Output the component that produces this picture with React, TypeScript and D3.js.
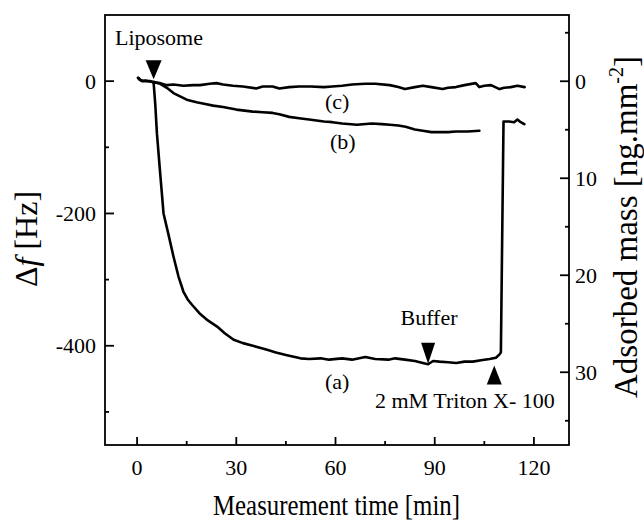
import React from "react";
import * as d3 from "d3";

// Frequency shift traces, [time (min), Δf (Hz)]
const curveA: [number, number][] = [
  [0.3, 5], [0.8, 2], [1.5, 0], [2.5, 1], [3.5, 0], [4.5, -1], [5.0, -2],
  [5.5, -35], [6.0, -79], [7.0, -140], [8.0, -200], [9.5, -232], [11.0, -265],
  [12.5, -295], [14.0, -318], [15.3, -330], [16.6, -338], [19.1, -352], [21.5, -362], [24.2, -371],
  [26.5, -381], [29.2, -391], [32, -396], [35, -400], [39.3, -406], [42, -410],
  [45, -414], [49.4, -419], [52, -420], [55.5, -419], [58, -421], [62, -419],
  [65, -421], [69, -417], [72, -420], [76, -421], [78, -419], [81, -421], [84, -423],
  [86.4, -426], [88, -428], [89.5, -423], [91.4, -424], [94, -425], [96.5, -426],
  [99, -424], [101.5, -424], [104, -422], [106.6, -420], [108.5, -418], [109.6, -413],
  [110.0, -410], [110.8, -61], [112.5, -61], [114, -62], [115, -58], [116, -62], [117.1, -65],
];

const curveB: [number, number][] = [
  [5, -1], [7, -4], [9, -10], [11, -18], [13, -23], [15, -28], [18, -32], [21, -35],
  [23, -37], [26, -39], [30, -43], [35, -46], [38, -47], [41, -48], [43, -50],
  [46, -54], [49, -56], [52, -58], [56.5, -61], [59, -62], [62, -64], [66.5, -66],
  [71, -64], [74, -65], [76.4, -66], [79, -67], [81.2, -69], [84, -73], [86.4, -75],
  [89, -77], [91.5, -77], [94, -77], [96.4, -76], [100, -76], [103.5, -75],
];

const curveC: [number, number][] = [
  [0.3, 5], [1, 2], [2, 0], [4, 0], [5, -2], [7, -3], [9, -6], [11, -5], [14, -7],
  [17, -6], [19, -6], [22, -4], [24, -3], [26, -5], [29, -7], [32, -8], [36, -11],
  [38, -8], [41, -8], [43, -11], [46, -9], [49, -8], [52.5, -8], [56.5, -9],
  [59, -8], [62, -7], [65, -5], [69, -4], [72, -4], [76.4, -6], [79, -9], [81, -12],
  [84, -9], [86.4, -7], [89, -9], [92.4, -12], [94, -10], [96.4, -9], [99, -6],
  [102.4, -3], [103.5, -9], [105, -7], [107, -6], [109.6, -12], [111, -10],
  [113, -9], [115, -7], [117.2, -9],
];

const timeTicks = [0, 30, 60, 90, 120];
const timeMinor = [15, 45, 75, 105];
const freqTicks = [0, -200, -400];
const freqMinor = [-100, -300, -500];
const massTicks = [0, 10, 20, 30];
const massMinor = [-5, 5, 15, 25, 35];

// Injection events: [time (min), Δf at marker tip (Hz)]
const liposomeAt: [number, number] = [5, 3];
const bufferAt: [number, number] = [88, -427];
const tritonAt: [number, number] = [108, -430];

const W = 644;
const H = 523;
const FONT = "'Liberation Serif', 'Times New Roman', serif";

export default function App() {
  const x = d3.scaleLinear().domain([-9.7, 130.6]).range([105, 569]);
  const y = d3.scaleLinear().domain([-550, 100]).range([445, 15]);
  const yMass = d3.scaleLinear().domain([-6.83, 37.5]).range([15, 445]);

  const [x0, x1] = x.range();
  const [yb, yt] = y.range();

  const line = d3
    .line<[number, number]>()
    .x((d) => x(d[0]))
    .y((d) => y(d[1]));

  const stroke = "#000";

  const downTri = (cx: number, tipY: number, w: number, h: number) =>
    `M${cx - w / 2},${tipY - h} L${cx + w / 2},${tipY - h} L${cx},${tipY} Z`;
  const upTri = (cx: number, tipY: number, w: number, h: number) =>
    `M${cx - w / 2},${tipY + h} L${cx + w / 2},${tipY + h} L${cx},${tipY} Z`;

  return (
    <svg
      width={W}
      height={H}
      style={{ position: "absolute", left: 0, top: 0, background: "#fff" }}
      fontFamily={FONT}
    >
      <rect x={0} y={0} width={W} height={H} fill="#fff" />

      {/* traces */}
      <g fill="none" stroke={stroke} strokeWidth={2.6} strokeLinejoin="round" strokeLinecap="round">
        <path d={line(curveC) ?? ""} />
        <path d={line(curveB) ?? ""} />
        <path d={line(curveA) ?? ""} />
      </g>

      {/* frame */}
      <rect x={x0} y={yt} width={x1 - x0} height={yb - yt} fill="none" stroke={stroke} strokeWidth={1.8} />

      {/* axis ticks, all pointing inward */}
      <g stroke={stroke} strokeWidth={1.8}>
        {timeTicks.map((t) => (
          <line key={"tx" + t} x1={x(t)} x2={x(t)} y1={yb} y2={yb - 8} />
        ))}
        {timeMinor.map((t) => (
          <line key={"mx" + t} x1={x(t)} x2={x(t)} y1={yb} y2={yb - 4} />
        ))}
        {freqTicks.map((v) => (
          <line key={"ty" + v} x1={x0} x2={x0 + 9} y1={y(v)} y2={y(v)} />
        ))}
        {freqMinor.map((v) => (
          <line key={"my" + v} x1={x0} x2={x0 + 4} y1={y(v)} y2={y(v)} />
        ))}
        {massTicks.map((v) => (
          <line key={"tm" + v} x1={x1} x2={x1 - 9} y1={yMass(v)} y2={yMass(v)} />
        ))}
        {massMinor.map((v) => (
          <line key={"mm" + v} x1={x1} x2={x1 - 4} y1={yMass(v)} y2={yMass(v)} />
        ))}
      </g>

      {/* tick labels */}
      <g fontSize={22} fill={stroke}>
        {timeTicks.map((t) => (
          <text key={"lx" + t} x={x(t)} y={475} textAnchor="middle">
            {t}
          </text>
        ))}
        {freqTicks.map((v) => (
          <text key={"ly" + v} x={96} y={y(v) + 7.5} textAnchor="end">
            {String(v)}
          </text>
        ))}
        {massTicks.map((v) => (
          <text key={"lm" + v} x={575} y={yMass(v) + 7.5} textAnchor="start">
            {v}
          </text>
        ))}
      </g>

      {/* axis titles */}
      <text
        x={336.5}
        y={515}
        fontSize={29}
        textAnchor="middle"
        textLength={247}
        lengthAdjust="spacingAndGlyphs"
      >
        Measurement time [min]
      </text>
      <text transform="translate(37,239) rotate(-90)" fontSize={32} textAnchor="middle">
        Δ<tspan fontStyle="italic">f</tspan> [Hz]
      </text>
      <text transform="translate(637,227) rotate(-90)" fontSize={33} textAnchor="middle">
        Adsorbed mass [ng.mm
        <tspan fontSize={20} dy={-14}>-2</tspan>
        <tspan dy={14}>]</tspan>
      </text>

      {/* event markers */}
      <g fill={stroke}>
        <path d={downTri(x(liposomeAt[0]), y(liposomeAt[1]), 16, 19)} />
        <path d={downTri(x(bufferAt[0]), y(bufferAt[1]), 14, 21)} />
        <path d={upTri(x(tritonAt[0]), y(tritonAt[1]), 15, 19)} />
      </g>

      {/* annotations */}
      <g fontSize={22} fill={stroke}>
        <text x={115} y={45}>Liposome</text>
        <text x={429} y={325} textAnchor="middle">Buffer</text>
        <text x={375} y={408}>2 mM Triton X- 100</text>
        <text x={325} y={389}>(a)</text>
        <text x={330} y={149}>(b)</text>
        <text x={325} y={109}>(c)</text>
      </g>
    </svg>
  );
}
